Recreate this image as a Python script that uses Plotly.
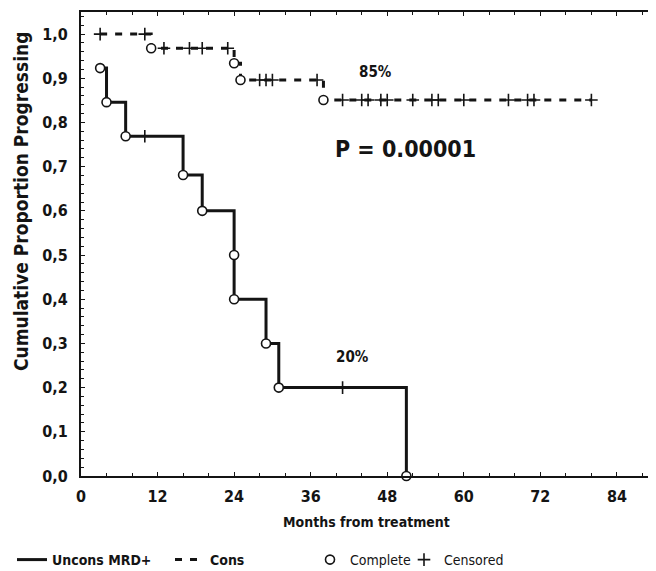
import plotly.graph_objects as go

# ---- data ----
uncons_t = [3, 4, 7, 16, 19, 24, 24, 29, 31, 51]
uncons_s = [0.923, 0.846, 0.769, 0.681, 0.600, 0.500, 0.400, 0.300, 0.200, 0.000]
uncons_cens_t = [10, 41]
uncons_cens_s = [0.769, 0.200]

cons_t = [3, 11, 24, 25, 38, 80]
cons_s = [1.000, 0.968, 0.934, 0.896, 0.851, 0.851]
cons_event_t = [11, 24, 25, 38]
cons_event_s = [0.968, 0.934, 0.896, 0.851]
cons_cens_t = [3, 10, 13, 17, 19, 23, 28, 29, 30, 37,
               41, 44, 45, 47, 48, 52, 55, 56, 60, 67, 70, 71, 80]
cons_cens_s = [1.0, 1.0, 0.968, 0.968, 0.968, 0.968, 0.896, 0.896, 0.896, 0.896,
               0.851, 0.851, 0.851, 0.851, 0.851, 0.851, 0.851, 0.851, 0.851,
               0.851, 0.851, 0.851, 0.851]

x_ticks = [0, 12, 24, 36, 48, 60, 72, 84]
x_ticktext = ["0", "12", "24", "36", "48", "60", "72", "84"]
y_ticks = [0.0, 0.1, 0.2, 0.3, 0.4, 0.5, 0.6, 0.7, 0.8, 0.9, 1.0]
y_ticktext = ["0,0", "0,1", "0,2", "0,3", "0,4", "0,5", "0,6", "0,7", "0,8", "0,9", "1,0"]

FONT = "Liberation Sans Narrow, Arial Narrow, DejaVu Sans Condensed, sans-serif"
INK = "#141414"

fig = go.Figure()

fig.add_trace(go.Scatter(
    x=uncons_t, y=uncons_s, mode="lines", line=dict(color=INK, width=3, shape="hv"),
    name="<b>Uncons MRD+</b>", legend="legend"))
fig.add_trace(go.Scatter(
    x=cons_t, y=cons_s, mode="lines",
    line=dict(color=INK, width=3, shape="hv", dash="7px,8px"),
    name="<b>Cons</b>", legend="legend2"))
fig.add_trace(go.Scatter(
    x=uncons_t + cons_event_t, y=uncons_s + cons_event_s, mode="markers",
    marker=dict(symbol="circle", size=9, color="white", line=dict(color=INK, width=1.6)),
    name="Complete", legend="legend3", cliponaxis=False))
fig.add_trace(go.Scatter(
    x=uncons_cens_t + cons_cens_t, y=uncons_cens_s + cons_cens_s, mode="markers",
    marker=dict(symbol="cross-thin-open", size=9, color=INK, line=dict(color=INK, width=1.6)),
    name="Censored", legend="legend4", cliponaxis=False))

axis_common = dict(
    showline=True, linecolor=INK, linewidth=2, mirror="allticks",
    ticks="inside", ticklen=4, tickwidth=1, tickcolor=INK,
    showgrid=False, zeroline=False, automargin=False,
    tickfont=dict(family=FONT, size=16, color=INK, weight="bold"),
)

fig.update_xaxes(range=[0, 89.5], tickvals=x_ticks, ticktext=x_ticktext,
                 minor=dict(dtick=4, tick0=0, ticks="inside", ticklen=3, tickcolor=INK, tickwidth=1),
                 ticklabelstandoff=5, **axis_common)
fig.update_yaxes(range=[0, 1.05], tickvals=y_ticks, ticktext=y_ticktext,
                 minor=dict(dtick=0.02, tick0=0, ticks="inside", ticklen=3, tickcolor=INK, tickwidth=1),
                 ticklabelstandoff=8, **axis_common)

annots = [
    dict(x=0.5, y=(476 - 522) / 464, xref="paper", yref="paper", text="<b>Months from treatment</b>",
         showarrow=False, font=dict(family=FONT, size=14, color=INK), xanchor="center", yanchor="middle"),
    dict(x=(21 - 81) / 571, y=(476 - 202) / 464, xref="paper", yref="paper",
         text="<b>Cumulative Proportion Progressing</b>", textangle=-90,
         showarrow=False, font=dict(family=FONT, size=19, color=INK), xanchor="center", yanchor="middle"),
    dict(x=46.2, y=0.914, text="<b>85%</b>", showarrow=False,
         font=dict(family=FONT, size=15, color=INK)),
    dict(x=42.6, y=0.269, text="<b>20%</b>", showarrow=False,
         font=dict(family=FONT, size=15, color=INK)),
    dict(x=50.8, y=0.74, text="<b>P = 0.00001</b>", showarrow=False,
         font=dict(family=FONT, size=23, color=INK)),
]

leg_y = (476 - 560) / 464
def leg(xpx, size=14, weight="bold"):
    return dict(x=(xpx - 81) / 571, y=leg_y, xanchor="left", yanchor="middle",
                orientation="h", bgcolor="rgba(0,0,0,0)", borderwidth=0,
                font=dict(family=FONT, size=size, color=INK, weight=weight),
                itemwidth=30, tracegroupgap=0)

# the page body adds an 8px offset; size the figure so that the plot frame
# lands at x 81..652, y 12..476 of the 656x571 window
fig.update_layout(
    width=648, height=563,
    margin=dict(l=73, r=4, t=4, b=95, autoexpand=False),
    paper_bgcolor="white", plot_bgcolor="white",
    showlegend=True,
    legend=leg(12), legend2=leg(170), legend3=leg(310, 14, "normal"), legend4=leg(404, 14, "normal"),
    annotations=annots,
)

fig.write_html("out.html")
